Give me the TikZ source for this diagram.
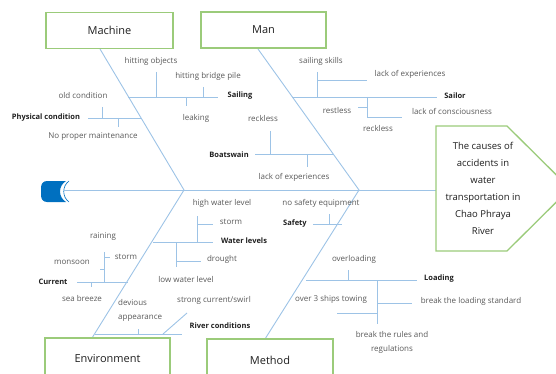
\documentclass[tikz,border=0pt]{standalone}
\usepackage{fontspec}
\setmainfont{Open Sans}
\definecolor{bline}{HTML}{9DC3E6}
\definecolor{gbox}{HTML}{9BCB7A}
\definecolor{lblc}{HTML}{595959}
\definecolor{blblc}{HTML}{1F1F1F}
\definecolor{tailc}{HTML}{0070C0}
\tikzset{
  lbl/.style={font=\fontsize{8}{14}\selectfont, text=lblc, inner sep=0pt},
  blbl/.style={font=\fontsize{7.5}{9}\selectfont\bfseries, text=blblc, inner sep=0pt},
  catbox/.style={draw=gbox, line width=1.3pt, fill=white, font=\fontsize{11}{13}\selectfont, text=blblc},
  br/.style={draw=bline, line width=0.9pt},
}
\begin{document}
\begin{tikzpicture}[x=1pt,y=-1pt]
\useasboundingbox (0,0) rectangle (556,374);
\clip (0,0) rectangle (556,374);
% named points of the skeleton
\coordinate (spL) at (64,190);
\coordinate (spR) at (436,190);
\coordinate (mTop) at (100,49);
\coordinate (J1) at (184,190);
\coordinate (eBot) at (92,338);
\coordinate (manTop) at (258,49);
\coordinate (J2) at (359,190);
\coordinate (meBot) at (265,339);
% tail
\fill[tailc] (66,181) .. controls (58,186) and (58,197) .. (66,202) -- (47,202)
  .. controls (43,202) and (41,199) .. (41,195) -- (41,188) .. controls (41,184) and (43,181) .. (47,181) -- cycle;
\draw[tailc, line width=0.6pt] (69,181) .. controls (62,186) and (62,197) .. (69,202);
% spine and ribs
\draw[br] (spL) -- (spR);
\draw[br] (mTop) -- (J1) -- (eBot);
\draw[br] (manTop) -- (J2) -- (meBot);
% category boxes
\node[catbox, minimum width=127pt, minimum height=36pt] (machine) at (109.5,30.5) {Machine};
\node[catbox, minimum width=125pt, minimum height=36pt] (man) at (263.5,30) {Man};
\node[catbox, minimum width=125pt, minimum height=42pt] (env) at (107.5,359) {Environment};
\node[catbox, minimum width=126pt, minimum height=42pt] (meth) at (270,360) {Method};
% head
\draw[draw=gbox, line width=1.3pt, fill=white] (436,126) -- (507,126) -- (570,188.5) -- (507,251) -- (436,251) -- cycle;
\node[font=\fontsize{9.5}{17}\selectfont, text=blblc, align=center, inner sep=0pt] (head) at (483,188)
  {The causes of\\accidents in\\water\\transportation in\\Chao Phraya\\River};
% ---- Machine
\draw[br] (128,97) -- (218,97);
\draw[br] (156,72) -- (156,97);
\draw[br] (203,87) -- (203,97);
\draw[br] (186,97) -- (186,106);
\node[lbl] (m1) at (151,61) {hitting objects};
\node[lbl] (m2) at (208,76) {hitting bridge pile};
\node[blbl] (m3) at (240,96) {Sailing};
\node[lbl] (m4) at (196,118) {leaking};
\draw[br] (88,118) -- (142,118);
\draw[br] (102,107) -- (102,118);
\draw[br] (118,118) -- (118,127);
\node[lbl] (m5) at (83,96) {old condition};
\node[blbl] (m6) at (46,118) {Physical condition};
\node[lbl] (m7) at (93,137) {No proper maintenance};
% ---- Man
\draw[br] (292,97) -- (437,97);
\draw[br] (317,72) -- (317,97);
\draw[br] (317,80) -- (367,80);
\draw[br] (367,97) -- (367,118);
\draw[br] (367,117) -- (402,117);
\draw[br] (358,107) -- (367,107);
\node[lbl] (a1) at (321,61) {sailing skills};
\node[lbl] (a2) at (410,74) {lack of experiences};
\node[blbl] (a3) at (455,96) {Sailor};
\node[lbl] (a4) at (337,111) {restless};
\node[lbl] (a5) at (452,111) {lack of consciousness};
\node[lbl] (a6) at (378,129) {reckless};
\draw[br] (255,154) -- (333,154);
\draw[br] (270,131) -- (270,154);
\draw[br] (307,154) -- (307,167);
\node[lbl] (a7) at (263,119) {reckless};
\node[blbl] (a8) at (229,155) {Boatswain};
\node[lbl] (a9) at (294,177) {lack of experiences};
% ---- Environment
\draw[br] (153,242) -- (213,242);
\draw[br] (197,216) -- (197,242);
\draw[br] (197,224) -- (213,224);
\draw[br] (176,242) -- (176,267);
\draw[br] (176,261) -- (201,261);
\node[lbl] (e1) at (222,203) {high water level};
\node[lbl] (e2) at (231,222) {storm};
\node[blbl] (e3) at (244,241) {Water levels};
\node[lbl] (e4) at (222,259) {drought};
\node[lbl] (e5) at (186,279) {low water level};
\draw[br] (77,282) -- (128,282);
\draw[br] (91,282) -- (91,287);
\draw[br] (104,252) -- (104,282);
\draw[br] (104,257) -- (110,257);
\draw[br] (100,269) -- (104,269);
\node[lbl] (e6) at (103,237) {raining};
\node[lbl] (e7) at (126,257) {storm};
\node[lbl] (e8) at (72,262) {monsoon};
\node[blbl] (e9) at (53,282) {Current};
\node[lbl] (e10) at (82,298) {sea breeze};
\draw[br] (95,334) -- (182,334);
\draw[br] (138,329) -- (138,334);
\draw[br] (163,334) -- (187,313);
\node[lbl, align=left, anchor=west] (e11) at (118,310) {devious\\appearance};
\node[lbl] (e12) at (214,300) {strong current/swirl};
\node[blbl] (e13) at (220,326) {River conditions};
% ---- Method
\draw[br] (313,224) -- (342,224);
\draw[br] (329,214) -- (329,224);
\node[lbl] (t1) at (321,203) {no safety equipment};
\node[blbl] (t2) at (295,224) {Safety};
\draw[br] (306,280) -- (417,280);
\draw[br] (348,270) -- (348,280);
\draw[br] (377,280) -- (377,324);
\draw[br] (377,303) -- (412,303);
\draw[br] (337,313) -- (377,313);
\node[lbl] (t3) at (354,259) {overloading};
\node[blbl] (t4) at (439,279) {Loading};
\node[lbl] (t5) at (331,299) {over 3 ships towing};
\node[lbl] (t6) at (471,301) {break the loading standard};
\node[lbl, align=center] (t7) at (392,342) {break the rules and\\regulations};
\end{tikzpicture}
\end{document}
